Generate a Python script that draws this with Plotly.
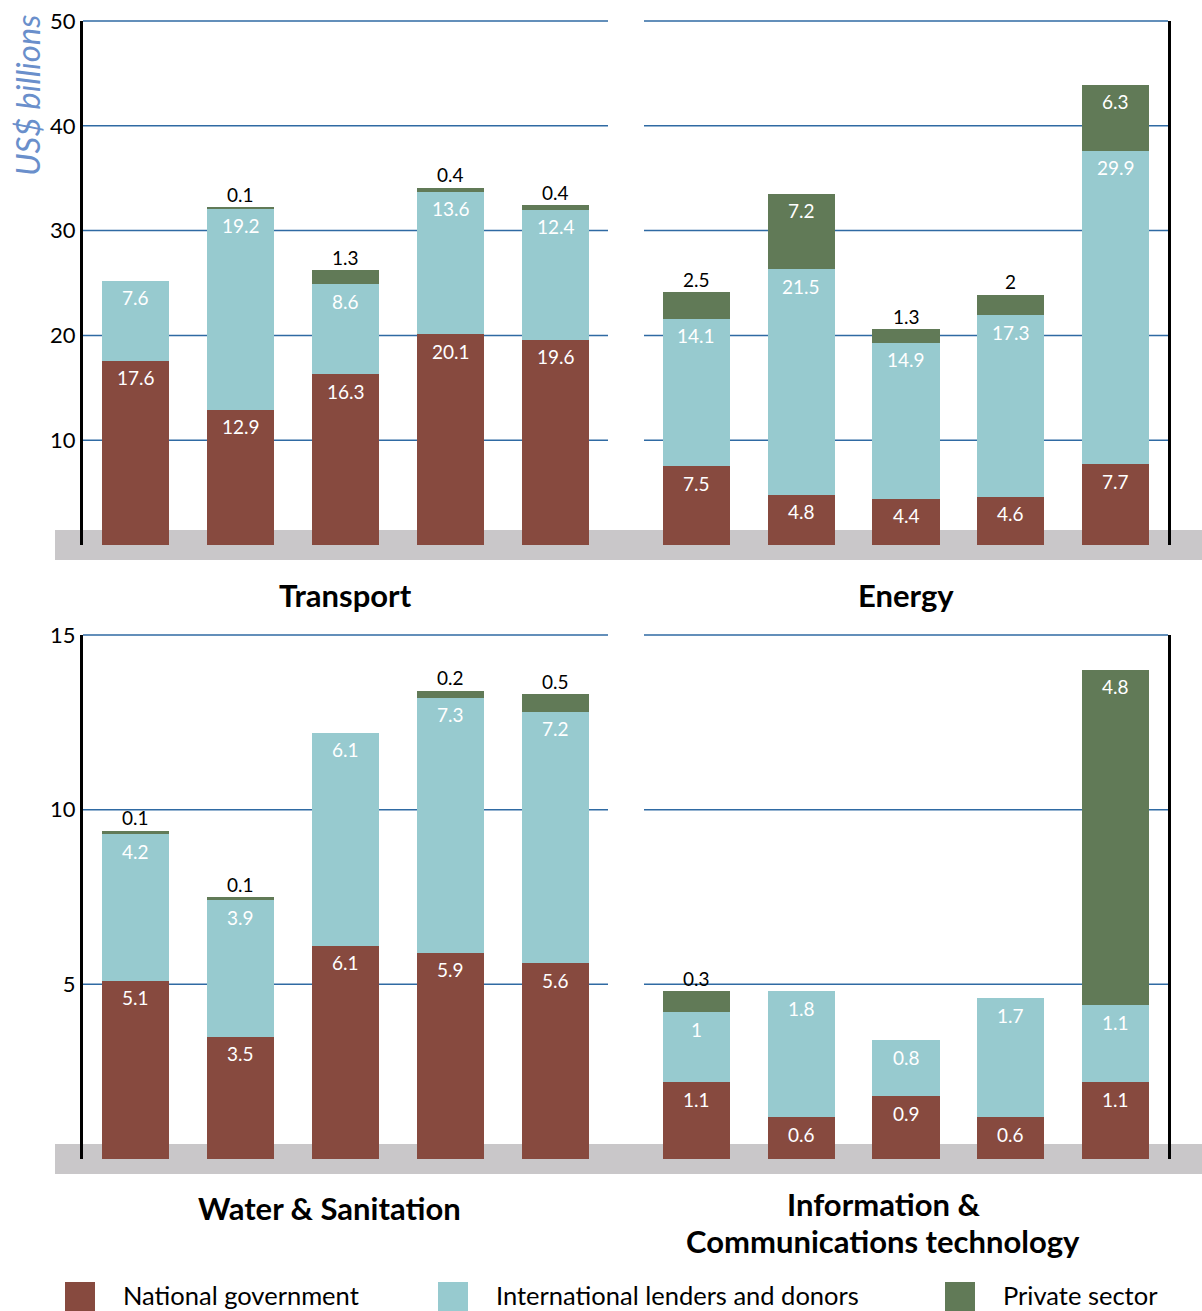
import plotly.graph_objects as go

# ---- data -------------------------------------------------------------
groups = ["Group 1", "Group 2", "Group 3", "Group 4", "Group 5"]
series_names = ["National government", "International lenders and donors", "Private sector"]

transport_national = [17.6, 12.9, 16.3, 20.1, 19.6]
transport_intl = [7.6, 19.2, 8.6, 13.6, 12.4]
transport_private = [None, 0.1, 1.3, 0.4, 0.4]

energy_national = [7.5, 4.8, 4.4, 4.6, 7.7]
energy_intl = [14.1, 21.5, 14.9, 17.3, 29.9]
energy_private = [2.5, 7.2, 1.3, 2, 6.3]

water_national = [5.1, 3.5, 6.1, 5.9, 5.6]
water_intl = [4.2, 3.9, 6.1, 7.3, 7.2]
water_private = [0.1, 0.1, None, 0.2, 0.5]

ict_national = [1.1, 0.6, 0.9, 0.6, 1.1]
ict_intl = [1, 1.8, 0.8, 1.7, 1.1]
ict_private = [0.3, None, None, None, 4.8]

sector_titles = [["Transport"], ["Energy"], ["Water & Sanitation"],
                 ["Information &", "Communications technology"]]
y_title = "US$ billions"

top_ticks = [10, 20, 30, 40, 50]
bottom_ticks = [5, 10, 15]

# ---- styling ----------------------------------------------------------
colors = ["#874a3f", "#97cacf", "#617a57"]
grid_color = "#2f6aa3"
band_color = "#c9c7c9"
FONT = "Lato, Noto Sans, sans-serif"
W, H = 1202, 1311


def px_x(p):
    return p / W


def px_y(p):
    return 1 - p / H


panels = [
    dict(ax="", data=[transport_national, transport_intl, transport_private],
         xdom=[83, 608], ydom=[545, 21], yrange=[0, 50], side="left", ticks=top_ticks,
         grid=[10, 20, 30, 40], big=5.0),
    dict(ax="2", data=[energy_national, energy_intl, energy_private],
         xdom=[644, 1168], ydom=[545, 21], yrange=[0, 50], side="right", ticks=None,
         grid=[10, 20, 30, 40], big=5.0),
    dict(ax="3", data=[water_national, water_intl, water_private],
         xdom=[83, 608], ydom=[1159, 635], yrange=[0, 15], side="left", ticks=bottom_ticks,
         grid=[5, 10], big=1.5),
    dict(ax="4", data=[ict_national, ict_intl, ict_private],
         xdom=[644, 1168], ydom=[1159, 635], yrange=[0, 7.5], side="right", ticks=None,
         grid=[2.5, 5], big=0.75),
]

fig = go.Figure()
annotations = []
shapes = []

for p in panels:
    xa = "x" + p["ax"]
    ya = "y" + p["ax"]
    for s, vals in enumerate(p["data"]):
        fig.add_trace(go.Bar(
            x=groups, y=[v if v is not None else 0 for v in vals],
            name=series_names[s], marker=dict(color=colors[s], line=dict(width=0)),
            xaxis=xa, yaxis=ya, showlegend=False, hoverinfo="skip",
        ))
    # value labels: inside the segment top, or above small private-sector caps
    base = [0.0] * len(groups)
    for s, vals in enumerate(p["data"]):
        for i, v in enumerate(vals):
            if v is None:
                continue
            top = base[i] + v
            inside = s < 2 or v >= p["big"]
            annotations.append(dict(
                x=groups[i], y=top, xref=xa, yref=ya, text=f"{v:g}",
                showarrow=False, yanchor="middle", yshift=-17 if inside else 13,
                font=dict(family=FONT, size=19, color="white" if inside else "black")))
            base[i] = top

    # interior horizontal grid lines
    for g in p["grid"]:
        shapes.append(dict(type="line", xref=xa + " domain", yref=ya,
                           x0=0, x1=1, y0=g, y1=g, layer="below",
                           line=dict(color=grid_color, width=1.5)))
    # top and base lines along the panel edges (kept unclipped)
    x0, x1 = px_x(p["xdom"][0]), px_x(p["xdom"][1])
    for edge, wdt in [(p["ydom"][1], 1.5), (p["ydom"][0], 2)]:
        shapes.append(dict(type="line", xref="paper", yref="paper",
                           x0=x0, x1=x1, y0=px_y(edge), y1=px_y(edge), layer="below",
                           line=dict(color=grid_color, width=wdt)))

    xkey = "xaxis" + p["ax"]
    ykey = "yaxis" + p["ax"]
    fig.update_layout(**{
        xkey: dict(domain=[x0, x1], anchor=ya,
                   showticklabels=False, showgrid=False, zeroline=False, showline=False,
                   ticks="", range=[-0.5, 4.5], fixedrange=True, automargin=False),
        ykey: dict(domain=[px_y(p["ydom"][0]), px_y(p["ydom"][1])], anchor=xa,
                   range=p["yrange"], showgrid=False, zeroline=False,
                   showline=True, linecolor="black", linewidth=3, side=p["side"],
                   showticklabels=p["ticks"] is not None,
                   tickmode="array", tickvals=p["ticks"] if p["ticks"] else [],
                   ticks="", ticklabelstandoff=0, automargin=False,
                   tickfont=dict(family=FONT, size=22, color="black"),
                   fixedrange=True),
    })

# grey floor bands under each row of panels
for y0, y1 in [(530, 560), (1144, 1174)]:
    shapes.append(dict(type="rect", xref="paper", yref="paper",
                       x0=px_x(55), x1=1.0, y0=px_y(y1), y1=px_y(y0),
                       fillcolor=band_color, line=dict(width=0), layer="below"))

# sector titles
title_pos = [(345, [595]), (906, [595]), (329, [1208]), (883, [1204, 1241])]
for lines, (cx, ys) in zip(sector_titles, title_pos):
    for line, cy in zip(lines, ys):
        annotations.append(dict(x=px_x(cx), y=px_y(cy), xref="paper", yref="paper",
                                text=f"<b>{line}</b>", showarrow=False, xanchor="center",
                                yanchor="middle", align="center",
                                font=dict(family=FONT, size=31, color="black")))

# y axis title
annotations.append(dict(x=px_x(27), y=px_y(95), xref="paper", yref="paper",
                        text=f"<i>{y_title}</i>", showarrow=False, textangle=-90,
                        xanchor="center", yanchor="middle",
                        font=dict(family=FONT, size=33, color="#6a8fcb")))

# legend
legend_x = [65, 438, 945]
for name, col, lx in zip(series_names, colors, legend_x):
    shapes.append(dict(type="rect", xref="paper", yref="paper",
                       x0=px_x(lx), x1=px_x(lx + 30), y0=px_y(1315), y1=px_y(1282),
                       fillcolor=col, line=dict(width=0)))
    annotations.append(dict(x=px_x(lx + 56), y=px_y(1295), xref="paper", yref="paper",
                            text=name, showarrow=False, xanchor="left", yanchor="middle",
                            font=dict(family=FONT, size=25.5, color="black")))

fig.update_layout(
    width=W, height=H, margin=dict(l=0, r=0, t=0, b=0, autoexpand=False),
    paper_bgcolor="white", plot_bgcolor="rgba(0,0,0,0)",
    barmode="stack", bargap=0.36, showlegend=False,
    annotations=annotations, shapes=shapes,
)

fig.write_html("out.html", config={"displayModeBar": False})
